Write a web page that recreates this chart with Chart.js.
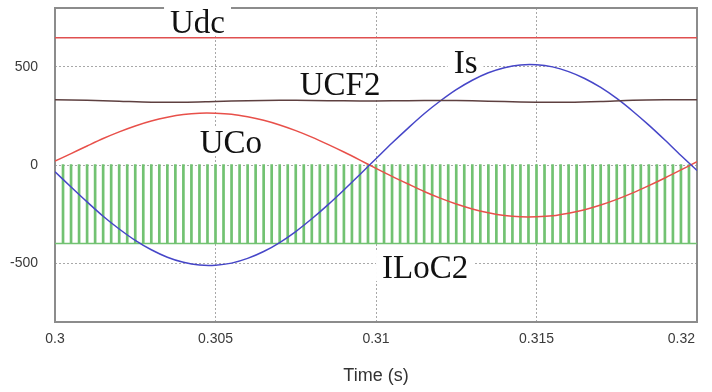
<!DOCTYPE html>
<html>
<head>
    <title>Udc / UCF2 / UCo / Is / ILoC2</title>
    <script src="https://cdn.jsdelivr.net/npm/chart.js"></script>
    <style>
        body {
            margin: 0;
            background-color: #fff;
            overflow: hidden;
        }
        canvas {
            display: block;
        }
    </style>
</head>
<body>

<canvas id="waveChart" width="712" height="392"></canvas>

<script>
    // 축 눈금
    const xTickValues = [0.3, 0.305, 0.31, 0.315, 0.32];
    const xTickLabels = ['0.3', '0.305', '0.31', '0.315', '0.32        '];
    const yTickValues = [-500, 0, 500];

    // Udc (직류 전압)
    const udcTime = [0.3, 0.32];
    const udcValues = [648, 648];

    // UCF2
    const ucf2Time = [0.3, 0.301, 0.302, 0.303, 0.304, 0.305, 0.306, 0.307, 0.308, 0.309, 0.31,
                      0.311, 0.312, 0.313, 0.314, 0.315, 0.316, 0.317, 0.318, 0.319, 0.32];
    const ucf2Values = [333, 330, 325, 320, 320, 324, 328, 330, 329, 327, 326,
                        328, 329, 327, 323, 320, 320, 324, 330, 332, 332];

    // UCo, Is (0.5 ms 간격)
    const waveTime = [0.3, 0.3005, 0.301, 0.3015, 0.302, 0.3025, 0.303, 0.3035, 0.304, 0.3045,
                      0.305, 0.3055, 0.306, 0.3065, 0.307, 0.3075, 0.308, 0.3085, 0.309, 0.3095,
                      0.31, 0.3105, 0.311, 0.3115, 0.312, 0.3125, 0.313, 0.3135, 0.314, 0.3145,
                      0.315, 0.3155, 0.316, 0.3165, 0.317, 0.3175, 0.318, 0.3185, 0.319, 0.3195, 0.32];
    const ucoValues = [20, 58, 97, 135, 169, 199, 224, 243, 257, 264,
                       264, 259, 246, 228, 204, 175, 142, 105, 66, 25,
                       -17, -58, -97, -135, -169, -199, -224, -243, -257, -264,
                       -264, -259, -246, -228, -204, -175, -142, -105, -66, -25, 17];
    const isValues = [-34, -112, -188, -261, -326, -384, -432, -470, -496, -510,
                      -511, -500, -476, -441, -395, -339, -274, -203, -127, -48,
                      32, 112, 188, 261, 326, 384, 432, 470, 496, 510,
                      511, 500, 476, 441, 395, 339, 274, 203, 127, 48, -28];

    // ILoC2: 스위칭 펄스 (펄스 중심 시각, 레벨)
    const iloc2Centers = [
        0.30025, 0.3005, 0.30075, 0.301, 0.30125, 0.3015, 0.30175, 0.302, 0.30225, 0.3025,
        0.30275, 0.303, 0.30325, 0.3035, 0.30375, 0.304, 0.30425, 0.3045, 0.30475, 0.305,
        0.30525, 0.3055, 0.30575, 0.306, 0.30625, 0.3065, 0.30675, 0.307, 0.30725, 0.3075,
        0.30775, 0.308, 0.30825, 0.3085, 0.30875, 0.309, 0.30925, 0.3095, 0.30975, 0.31,
        0.31025, 0.3105, 0.31075, 0.311, 0.31125, 0.3115, 0.31175, 0.312, 0.31225, 0.3125,
        0.31275, 0.313, 0.31325, 0.3135, 0.31375, 0.314, 0.31425, 0.3145, 0.31475, 0.315,
        0.31525, 0.3155, 0.31575, 0.316, 0.31625, 0.3165, 0.31675, 0.317, 0.31725, 0.3175,
        0.31775, 0.318, 0.31825, 0.3185, 0.31875, 0.319, 0.31925, 0.3195, 0.31975
    ];
    const iloc2High = 0;
    const iloc2Low = -400;
    const iloc2HalfWidth = 0.00002;

    // 곡선 이름표 (데이터 좌표, 글자 기준선)
    const curveLabels = ['Udc', 'UCF2', 'Is', 'UCo', 'ILoC2'];
    const labelTimes = [0.30444, 0.30888, 0.31279, 0.30548, 0.31153];
    const labelValues = [673, 357, 469, 61, -576];

    function toPoints(xs, ys) {
        return xs.map((x, i) => ({ x: x, y: ys[i] }));
    }

    const iloc2Points = [{ x: 0.3, y: iloc2Low }];
    iloc2Centers.forEach(c => {
        iloc2Points.push({ x: c - iloc2HalfWidth, y: iloc2Low });
        iloc2Points.push({ x: c - iloc2HalfWidth, y: iloc2High });
        iloc2Points.push({ x: c + iloc2HalfWidth, y: iloc2High });
        iloc2Points.push({ x: c + iloc2HalfWidth, y: iloc2Low });
    });
    iloc2Points.push({ x: 0.32, y: iloc2Low });

    const tickFont = { family: '"Liberation Sans", Arial, sans-serif', size: 14 };

    // 눈금 글자 때문에 생기는 여백 제거
    function noPadding(s) {
        s.paddingLeft = 0;
        s.paddingRight = 0;
        s.paddingTop = 0;
        s.paddingBottom = 0;
    }

    // 테두리와 이름표 배경 (곡선보다 먼저), 이름표 글자 (곡선 다음)
    const labelPlugin = {
        id: 'curveLabels',
        beforeDatasetsDraw(chart) {
            const { ctx, chartArea: a, scales: { x, y } } = chart;
            ctx.save();
            ctx.strokeStyle = '#8c8c8c';
            ctx.lineWidth = 2;
            ctx.strokeRect(a.left, a.top, a.right - a.left, a.bottom - a.top);
            ctx.font = '33px "Liberation Serif", "Times New Roman", serif';
            ctx.fillStyle = '#fff';
            curveLabels.forEach((txt, i) => {
                const px = x.getPixelForValue(labelTimes[i]);
                const py = y.getPixelForValue(labelValues[i]);
                const w = ctx.measureText(txt).width;
                ctx.fillRect(px - w / 2 - 6, py - 27, w + 12, 30);
            });
            ctx.restore();
        },
        afterDatasetsDraw(chart) {
            const { ctx, scales: { x, y } } = chart;
            ctx.save();
            ctx.font = '33px "Liberation Serif", "Times New Roman", serif';
            ctx.textAlign = 'center';
            ctx.textBaseline = 'alphabetic';
            ctx.fillStyle = '#111';
            curveLabels.forEach((txt, i) => {
                ctx.fillText(txt, x.getPixelForValue(labelTimes[i]), y.getPixelForValue(labelValues[i]));
            });
            ctx.restore();
        }
    };

    const waveCtx = document.getElementById('waveChart').getContext('2d');
    const waveChart = new Chart(waveCtx, {
        type: 'line',
        data: {
            datasets: [
                { label: 'Udc', data: toPoints(udcTime, udcValues), borderColor: '#e05050', borderWidth: 1.5, order: 1 },
                { label: 'UCF2', data: toPoints(ucf2Time, ucf2Values), borderColor: '#5e4040', borderWidth: 1.5, tension: 0.3, order: 2 },
                { label: 'Is', data: toPoints(waveTime, isValues), borderColor: '#4646c8', borderWidth: 1.5, tension: 0.3, order: 3 },
                { label: 'UCo', data: toPoints(waveTime, ucoValues), borderColor: '#e8504a', borderWidth: 1.5, tension: 0.3, order: 4 },
                { label: 'ILoC2', data: iloc2Points, borderColor: '#72c272', borderWidth: 1.4, order: 5 }
            ]
        },
        options: {
            responsive: false,
            animation: false,
            layout: { padding: { top: 8, right: 15, left: 0, bottom: 0 } },
            elements: { point: { radius: 0 } },
            plugins: {
                legend: { display: false },
                tooltip: { enabled: false }
            },
            scales: {
                x: {
                    type: 'linear',
                    min: 0.3,
                    max: 0.32,
                    afterBuildTicks: s => { s.ticks = xTickValues.map(v => ({ value: v })); },
                    afterFit: s => { s.height = 70; noPadding(s); },
                    ticks: {
                        padding: 9,
                        autoSkip: false,
                        maxRotation: 0,
                        color: '#3a3a3a',
                        font: tickFont,
                        callback: (v, i) => xTickLabels[i]
                    },
                    grid: {
                        drawTicks: false,
                        color: c => (c.index === 0 || c.index === xTickValues.length - 1) ? 'rgba(0,0,0,0)' : '#a8a8a8'
                    },
                    border: { display: false, dash: [2, 2] },
                    title: {
                        display: true,
                        text: 'Time (s)',
                        color: '#333',
                        font: { family: '"Liberation Sans", Arial, sans-serif', size: 18 },
                        padding: { top: 0, bottom: 5 }
                    }
                },
                y: {
                    min: -800,
                    max: 800,
                    afterBuildTicks: s => { s.ticks = yTickValues.map(v => ({ value: v })); },
                    afterFit: s => { s.width = 55; noPadding(s); },
                    ticks: {
                        padding: 17,
                        color: '#3a3a3a',
                        font: tickFont,
                        callback: v => String(v)
                    },
                    grid: { drawTicks: false, color: '#a8a8a8' },
                    border: { display: false, dash: [2, 2] }
                }
            }
        },
        plugins: [labelPlugin]
    });
</script>

</body>
</html>
